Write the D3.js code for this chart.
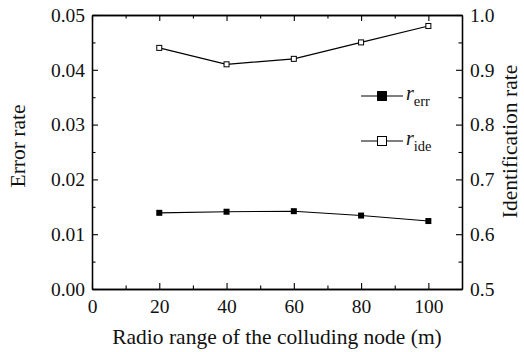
<!DOCTYPE html>
<html>
<head>
<meta charset="utf-8">
<script src="https://cdn.jsdelivr.net/npm/d3@7"></script>
</head>
<body style="margin:0">
<svg id="fig" width="524" height="352" font-family="Liberation Serif"></svg>
<script>
// Radio range of the colluding node (m)
const ranges = [20, 40, 60, 80, 100];
// Error rate (left axis)
const errRate = [0.0139, 0.0141, 0.0142, 0.0134, 0.0124];
// Identification rate (right axis)
const ideRate = [0.940, 0.910, 0.920, 0.950, 0.980];

const xTicks = [0, 20, 40, 60, 80, 100];
const leftTicks = [0, 0.01, 0.02, 0.03, 0.04, 0.05];
const rightTicks = [0.5, 0.6, 0.7, 0.8, 0.9, 1.0];

const FONT = "Liberation Serif";
const svg = d3.select("#fig");
const m = { left: 92, right: 462, top: 15, bottom: 289 };

const x = d3.scaleLinear().domain([0, 110]).range([m.left, m.right]);
const yL = d3.scaleLinear().domain([0, 0.05]).range([m.bottom, m.top]);
const yR = d3.scaleLinear().domain([0.5, 1.0]).range([m.bottom, m.top]);

const tickFs = 19.5;
const titleFs = 21.5;

// Frame axes: major ticks with labels, minor ticks between, all pointing inward
function styleAxis(g) {
  g.attr("font-family", FONT).attr("font-size", tickFs);
  g.select(".domain").attr("stroke", "#000").attr("stroke-width", 1.3);
  g.selectAll(".tick line").attr("stroke", "#000").attr("stroke-width", 1.1);
  g.selectAll(".tick text").attr("fill", "#111").attr("font-family", FONT);
}

const xMinor = d3.range(10, 110, 20);
const yLMinor = d3.range(0.005, 0.05, 0.01);
const yRMinor = d3.range(0.55, 1.0, 0.1);

// bottom
svg.append("g").attr("transform", `translate(0,${m.bottom})`)
  .call(d3.axisBottom(x).tickValues(xTicks).tickFormat(d3.format("d")).tickSizeInner(-6).tickSizeOuter(0).tickPadding(10))
  .call(styleAxis);
svg.append("g").attr("transform", `translate(0,${m.bottom})`)
  .call(d3.axisBottom(x).tickValues(xMinor).tickFormat("").tickSizeInner(-3.5).tickSizeOuter(0))
  .call(styleAxis);
// top
svg.append("g").attr("transform", `translate(0,${m.top})`)
  .call(d3.axisTop(x).tickValues(xTicks).tickFormat("").tickSizeInner(-6).tickSizeOuter(0))
  .call(styleAxis);
svg.append("g").attr("transform", `translate(0,${m.top})`)
  .call(d3.axisTop(x).tickValues(xMinor).tickFormat("").tickSizeInner(-3.5).tickSizeOuter(0))
  .call(styleAxis);
// left
svg.append("g").attr("transform", `translate(${m.left},0)`)
  .call(d3.axisLeft(yL).tickValues(leftTicks).tickFormat(d3.format(".2f")).tickSizeInner(-6).tickSizeOuter(0).tickPadding(7))
  .call(styleAxis);
svg.append("g").attr("transform", `translate(${m.left},0)`)
  .call(d3.axisLeft(yL).tickValues(yLMinor).tickFormat("").tickSizeInner(-3.5).tickSizeOuter(0))
  .call(styleAxis);
// right
svg.append("g").attr("transform", `translate(${m.right},0)`)
  .call(d3.axisRight(yR).tickValues(rightTicks).tickFormat(d3.format(".1f")).tickSizeInner(-6).tickSizeOuter(0).tickPadding(8))
  .call(styleAxis);
svg.append("g").attr("transform", `translate(${m.right},0)`)
  .call(d3.axisRight(yR).tickValues(yRMinor).tickFormat("").tickSizeInner(-3.5).tickSizeOuter(0))
  .call(styleAxis);

function label(sel, size) {
  return sel.attr("font-family", FONT).attr("font-size", size).attr("fill", "#111");
}

// Axis titles
svg.append("text")
  .attr("x", 277).attr("y", 343.5)
  .attr("text-anchor", "middle").call(label, titleFs)
  .text("Radio range of the colluding node (m)");
svg.append("text")
  .attr("transform", `translate(25,146) rotate(-90)`)
  .attr("text-anchor", "middle").call(label, titleFs)
  .text("Error rate");
svg.append("text")
  .attr("transform", `translate(517,141.5) rotate(-90)`)
  .attr("text-anchor", "middle").call(label, titleFs)
  .text("Identification rate");

// Series
const lineErr = d3.line().x((d, i) => x(ranges[i])).y(d => yL(d));
const lineIde = d3.line().x((d, i) => x(ranges[i])).y(d => yR(d));

svg.append("path").datum(errRate).attr("d", lineErr)
  .attr("fill", "none").attr("stroke", "#000").attr("stroke-width", 1.1);
svg.append("path").datum(ideRate).attr("d", lineIde)
  .attr("fill", "none").attr("stroke", "#000").attr("stroke-width", 1.1);

const sq = 6;
svg.selectAll(".mErr").data(errRate).join("rect")
  .attr("x", (d, i) => x(ranges[i]) - sq / 2).attr("y", d => yL(d) - sq / 2)
  .attr("width", sq).attr("height", sq).attr("fill", "#000");
svg.selectAll(".mIde").data(ideRate).join("rect")
  .attr("x", (d, i) => x(ranges[i]) - sq / 2 + 0.5).attr("y", d => yR(d) - sq / 2 + 0.5)
  .attr("width", sq - 1).attr("height", sq - 1).attr("fill", "#fff").attr("stroke", "#000").attr("stroke-width", 1);

// Legend
const legend = [
  { name: "err", fill: "#000", y: 96 },
  { name: "ide", fill: "#fff", y: 141 }
];
legend.forEach(l => {
  const g = svg.append("g");
  g.append("line").attr("x1", 361).attr("x2", 403).attr("y1", l.y).attr("y2", l.y)
    .attr("stroke", "#000").attr("stroke-width", 1.1);
  g.append("rect").attr("x", 382 - 4.5).attr("y", l.y - 4.5).attr("width", 9).attr("height", 9)
    .attr("fill", l.fill).attr("stroke", "#000").attr("stroke-width", 1);
  const t = g.append("text").attr("x", 406).attr("y", l.y + 4).call(label, 20);
  t.append("tspan").attr("font-style", "italic").text("r");
  t.append("tspan").attr("dy", 6).attr("font-size", 14.5).text(l.name);
});
</script>
</body>
</html>
